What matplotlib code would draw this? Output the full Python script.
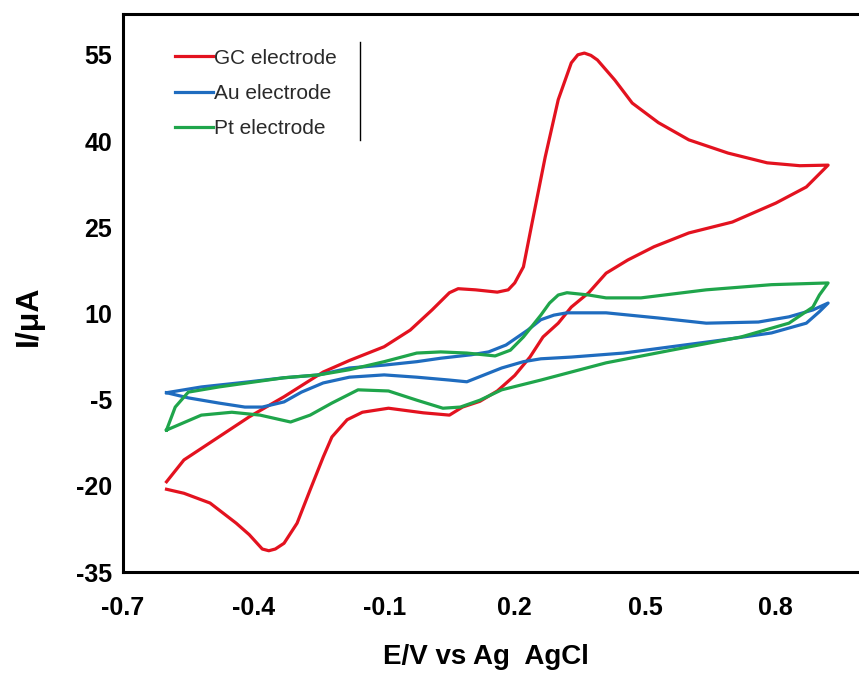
import matplotlib
matplotlib.use("Agg")
import matplotlib.pyplot as plt
from matplotlib.lines import Line2D

plt.rcParams['font.family'] = ['Liberation Sans', 'DejaVu Sans']

# Cyclic voltammograms: forward (anodic) branch followed by reverse (cathodic) branch
gc_x = [-0.60, -0.56, -0.48, -0.41, -0.33, -0.28, -0.24, -0.18, -0.10, -0.04, 0.01, 0.05, 0.07,
        0.11, 0.16, 0.185, 0.20, 0.22, 0.24, 0.27, 0.30, 0.33, 0.345, 0.36, 0.375, 0.39, 0.43,
        0.47, 0.53, 0.60, 0.69, 0.78, 0.855, 0.92,
        0.87, 0.80, 0.70, 0.60, 0.52, 0.46, 0.41, 0.37, 0.33, 0.30, 0.265, 0.235, 0.20, 0.16,
        0.12, 0.08, 0.05, -0.01, -0.09, -0.15, -0.185, -0.22, -0.24, -0.27, -0.30, -0.33,
        -0.35, -0.365, -0.38, -0.41, -0.44, -0.50, -0.56, -0.60]
gc_y = [-19.3, -15.5, -11.5, -8.0, -4.5, -2.1, -0.2, 1.8, 4.2, 7.1, 10.6, 13.6, 14.3,
        14.1, 13.7, 14.1, 15.3, 18.1, 25.8, 37.2, 47.2, 53.6, 55.0, 55.3, 54.9, 54.1, 50.6,
        46.6, 43.2, 40.2, 37.9, 36.2, 35.7, 35.8,
        32.0, 29.2, 25.9, 24.0, 21.6, 19.3, 17.0, 13.6, 11.1, 8.3, 5.9, 2.4, -0.8, -3.5,
        -5.3, -6.3, -7.7, -7.3, -6.5, -7.2, -8.5, -11.5, -15.0, -20.7, -26.5, -30.0,
        -31.0, -31.3, -31.0, -28.5, -26.5, -23.0, -21.3, -20.6]

au_x = [-0.60, -0.52, -0.41, -0.33, -0.25, -0.18, -0.10, -0.025, 0.03, 0.10, 0.14, 0.18,
        0.23, 0.26, 0.29, 0.32, 0.41, 0.53, 0.64, 0.76, 0.83, 0.885, 0.92,
        0.90, 0.87, 0.79, 0.68, 0.56, 0.45, 0.33, 0.26, 0.22, 0.17, 0.14, 0.09, 0.05,
        -0.025, -0.10, -0.18, -0.24, -0.29, -0.33, -0.38, -0.42, -0.48, -0.55, -0.60]
au_y = [-3.8, -2.8, -1.9, -1.2, -0.7, 0.5, 1.0, 1.6, 2.2, 2.8, 3.3, 4.5,
        7.1, 8.9, 9.7, 10.1, 10.1, 9.2, 8.3, 8.5, 9.4, 10.6, 11.8,
        10.3, 8.3, 6.6, 5.4, 4.2, 3.1, 2.4, 2.1, 1.6, 0.5, -0.4, -1.9, -1.6,
        -1.1, -0.7, -1.1, -2.1, -3.7, -5.4, -6.3, -6.3, -5.6, -4.7, -3.8]

pt_x = [-0.60, -0.58, -0.55, -0.48, -0.33, -0.25, -0.18, -0.10, -0.025, 0.03, 0.09, 0.155,
        0.19, 0.22, 0.26, 0.28, 0.30, 0.32, 0.37, 0.41, 0.49, 0.64, 0.79, 0.92,
        0.90, 0.885, 0.83, 0.72, 0.56, 0.41, 0.26, 0.17, 0.12, 0.075, 0.035, -0.025,
        -0.09, -0.16, -0.22, -0.27, -0.315, -0.385, -0.45, -0.52, -0.60]
pt_y = [-10.3, -6.3, -3.7, -2.8, -1.2, -0.7, 0.2, 1.6, 3.1, 3.3, 3.1, 2.6,
        3.6, 5.9, 9.7, 11.8, 13.2, 13.6, 13.2, 12.7, 12.7, 14.1, 15.0, 15.3,
        13.2, 11.1, 8.3, 5.9, 3.6, 1.4, -1.6, -3.3, -5.1, -6.3, -6.5, -5.1,
        -3.5, -3.3, -5.6, -7.7, -8.9, -7.7, -7.2, -7.7, -10.3]

labels = ["GC electrode", "Au electrode", "Pt electrode"]
colors = ["#e3121f", "#1f6cbf", "#1fa54b"]

x_ticks = [-0.7, -0.4, -0.1, 0.2, 0.5, 0.8]
x_tick_labels = ["-0.7", "-0.4", "-0.1", "0.2", "0.5", "0.8"]
y_ticks = [-35, -20, -5, 10, 25, 40, 55]
y_tick_labels = ["-35", "-20", "-5", "10", "25", "40", "55"]

fig = plt.figure(figsize=(8.59, 6.79), dpi=100)
ax = fig.add_axes([123 / 859, 1 - 572 / 679, 1 - 123 / 859, (572 - 14) / 679])

for xs, ys, c, lab in zip([gc_x, au_x, pt_x], [gc_y, au_y, pt_y], colors, labels):
    ax.plot(xs, ys, color=c, lw=2.3, label=lab, solid_joinstyle='round')

ax.set_xlim(-0.7, 0.991)
ax.set_ylim(-35, 62.1)
ax.set_xticks(x_ticks)
ax.set_xticklabels(x_tick_labels)
ax.set_yticks(y_ticks)
ax.set_yticklabels(y_tick_labels)
ax.tick_params(length=0, labelsize=18)
ax.tick_params(axis='x', pad=17)
ax.tick_params(axis='y', pad=8)
for t in ax.get_xticklabels() + ax.get_yticklabels():
    t.set_fontweight('bold')

for side in ['left', 'bottom', 'top']:
    ax.spines[side].set_linewidth(2.2)
    ax.spines[side].set_color('black')
ax.spines['right'].set_visible(False)

ax.set_xlabel("E/V vs Ag  AgCl", fontsize=20, fontweight='bold')
ax.xaxis.set_label_coords((486 - 123) / 736, (572 - 644) / 558)
ax.set_ylabel("I/μA", fontsize=23, fontweight='bold')
ax.yaxis.set_label_coords((44 - 123) / 736, (572 - 316) / 558)

leg = ax.legend(loc='upper left', bbox_to_anchor=(0.0707, 0.938), frameon=False,
                fontsize=15, handlelength=1.8, handletextpad=0.05, labelspacing=0.78,
                borderpad=0, borderaxespad=0)
for t in leg.get_texts():
    t.set_color('#2a2a2a')

# right edge of the legend box
ax.add_line(Line2D([(360 - 123) / 736] * 2, [(572 - 42) / 558, (572 - 140) / 558],
                   transform=ax.transAxes, color='black', lw=1.0))

fig.savefig("out.png", dpi=100)
